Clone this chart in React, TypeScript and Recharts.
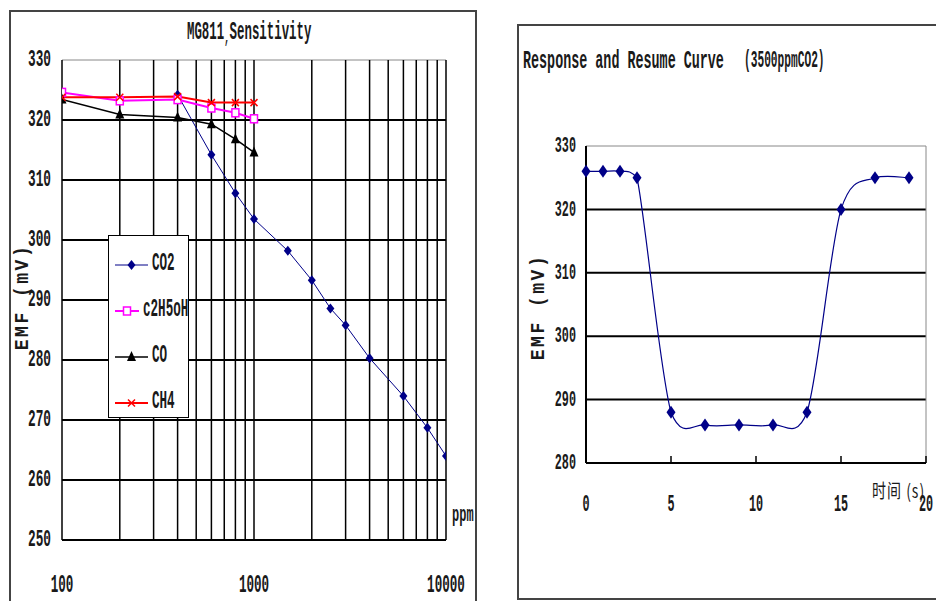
import { LineChart, Line, XAxis, YAxis, CartesianGrid, Legend, ReferenceLine } from 'recharts'

// ─── Data ────────────────────────────────────────────────────────────────────

const LOG_TICKS = [100, 200, 300, 400, 500, 600, 700, 800, 900, 1000, 2000, 3000, 4000, 5000, 6000, 7000, 8000, 9000, 10000]
const LOG_LABELS = [100, 1000, 10000]
const EMF_TICKS_LEFT = [250, 260, 270, 280, 290, 300, 310, 320, 330]

const co2Ppm = [400, 600, 800, 1000, 1500, 2000, 2500, 3000, 4000, 6000, 8000, 10000]
const co2Emf = [324.2, 314.2, 307.8, 303.5, 298.2, 293.3, 288.6, 285.8, 280.3, 274, 268.7, 264]

const gasPpm = [100, 200, 400, 600, 800, 1000]
const ethanolEmf = [324.6, 323.2, 323.4, 322, 321.2, 320.2]
const coEmf = [323.4, 320.9, 320.4, 319.3, 316.8, 314.6]
const ch4Emf = [323.8, 323.8, 323.9, 322.9, 322.9, 322.9]

const timeS = [0, 1, 2, 3, 5, 7, 9, 11, 13, 15, 17, 19]
const respEmf = [326, 326, 326, 325, 288, 286, 286, 286, 288, 320, 325, 325]
const TIME_TICKS = [0, 5, 10, 15, 20]
const EMF_TICKS_RIGHT = [280, 290, 300, 310, 320, 330]

const zip = (xs: number[], ys: number[]) => xs.map((x, i) => ({ x, y: ys[i] }))

const MONO = '"Liberation Mono", "DejaVu Sans Mono", monospace'
const NAVY = '#000088'
const INK = '#1a1a1a'

type MarkerKind = 'diamond' | 'square' | 'triangle' | 'cross'

const SERIES: { name: string; data: { x: number; y: number }[]; color: string; width: number; marker: MarkerKind; textAt: number }[] = [
  { name: 'CO2', data: zip(co2Ppm, co2Emf), color: NAVY, width: 1, marker: 'diamond', textAt: 44 },
  { name: 'c2H5oH', data: zip(gasPpm, ethanolEmf), color: '#ff00ff', width: 2, marker: 'square', textAt: 35 },
  { name: 'CO', data: zip(gasPpm, coEmf), color: '#000000', width: 1.5, marker: 'triangle', textAt: 44 },
  { name: 'CH4', data: zip(gasPpm, ch4Emf), color: '#ff0000', width: 2, marker: 'cross', textAt: 44 },
]

// ─── Markers ─────────────────────────────────────────────────────────────────

function Marker({ kind, cx, cy, color, big }: { kind: MarkerKind; cx: number; cy: number; color: string; big?: boolean }) {
  if (kind === 'diamond') {
    const w = big ? 4.5 : 4, h = big ? 6.5 : 5
    return <polygon points={`${cx},${cy - h} ${cx + w},${cy} ${cx},${cy + h} ${cx - w},${cy}`} fill={color} />
  }
  if (kind === 'square') {
    return <rect x={cx - 3.5} y={cy - 4} width={7} height={8} fill="#fff" stroke={color} strokeWidth={1.5} />
  }
  if (kind === 'triangle') {
    return <polygon points={`${cx},${cy - 6} ${cx + 4.5},${cy + 4} ${cx - 4.5},${cy + 4}`} fill={color} />
  }
  return (
    <path
      d={`M${cx - 3.5},${cy - 3.5}L${cx + 3.5},${cy + 3.5}M${cx + 3.5},${cy - 3.5}L${cx - 3.5},${cy + 3.5}`}
      stroke={color}
      strokeWidth={1.5}
    />
  )
}

// Excel-like smoothing: Catmull-Rom beziers; overshoot allowed below a segment, barely above
const smoothCurve = (context: any) => {
  let pts: [number, number][] = []
  const clamp = (v: number, a: number, b: number) => Math.min(Math.max(v, Math.min(a, b) - 3), Math.max(a, b) + 16)
  return {
    areaStart() {},
    areaEnd() {},
    lineStart() { pts = [] },
    point(x: number, y: number) { pts.push([x, y]) },
    lineEnd() {
      if (!pts.length) return
      context.moveTo(pts[0][0], pts[0][1])
      for (let i = 0; i < pts.length - 1; i++) {
        const p0 = pts[i - 1] ?? pts[i]
        const p1 = pts[i]
        const p2 = pts[i + 1]
        const p3 = pts[i + 2] ?? p2
        context.bezierCurveTo(
          p1[0] + (p2[0] - p0[0]) / 6, clamp(p1[1] + (p2[1] - p0[1]) / 6, p1[1], p2[1]),
          p2[0] - (p3[0] - p1[0]) / 6, clamp(p2[1] - (p3[1] - p1[1]) / 6, p1[1], p2[1]),
          p2[0], p2[1],
        )
      }
    },
  }
}

// grid line: top border thin grey, the rest heavy black
const gridLine = (topY: number) => (p: any) => (
  <line
    key={p.key}
    x1={p.x1} y1={p.y1} x2={p.x2} y2={p.y2}
    stroke={Math.abs(p.y1 - topY) < 1 ? '#888' : '#000'}
    strokeWidth={Math.abs(p.y1 - topY) < 1 ? 1 : 2}
  />
)

// tall, narrow bitmap-like lettering of the original
function TallText({ x, y, anchor = 'middle', size = 13, sy = 2, children }: any) {
  return (
    <text
      transform={`translate(${x},${y}) scale(1,${sy})`}
      textAnchor={anchor}
      dominantBaseline="central"
      fontFamily={MONO}
      fontSize={size}
      fontWeight="bold"
      fill={INK}
    >
      {children}
    </text>
  )
}

const tallDiv = (left: number, cy: number, size: number, sy = 2): React.CSSProperties => ({
  position: 'absolute', left, top: cy, fontFamily: MONO, fontSize: size, fontWeight: 'bold', lineHeight: 1,
  color: INK, whiteSpace: 'pre', transform: `translate(0, -50%) scaleY(${sy})`, transformOrigin: '0 50%',
})

function LogTick(props: any) {
  const { x, y, payload } = props
  if (!LOG_LABELS.includes(payload.value)) return null
  return <TallText x={x} y={y + 45} size={12.6} sy={2.1}>{payload.value}</TallText>
}

function LeftEmfTick(props: any) {
  const { x, y, payload } = props
  return <TallText x={x - 11} y={y} anchor="end" size={12.8} sy={1.9}>{payload.value}</TallText>
}

function RightEmfTick(props: any) {
  const { x, y, payload } = props
  return <TallText x={x - 10} y={y} anchor="end" size={11.8} sy={1.9}>{payload.value}</TallText>
}

function TimeTick(props: any) {
  const { x, y, payload } = props
  return (
    <g>
      <line x1={x} y1={y} x2={x} y2={y - 7} stroke="#000" strokeWidth={1.5} />
      <TallText x={x} y={y + 42} size={11.8} sy={2}>{payload.value}</TallText>
    </g>
  )
}

function SeriesLegend() {
  return (
    <div style={{ width: 81, height: 183, border: '1px solid #000', background: '#fff', boxSizing: 'border-box', paddingTop: 6 }}>
      {SERIES.map((s) => (
        <div key={s.name} style={{ position: 'relative', height: 46 }}>
          <svg width={s.textAt} height={46} style={{ position: 'absolute', left: 0, top: 0 }}>
            <line x1={6} x2={s.textAt - 5} y1={23} y2={23} stroke={s.color} strokeWidth={s.width} />
            <Marker kind={s.marker} cx={(s.textAt + 1) / 2} cy={23} color={s.color} />
          </svg>
          <div style={tallDiv(s.textAt - 1, 23, 12.6, 2)}>{s.name}</div>
        </div>
      ))}
    </div>
  )
}

const yLabel = (cx: number, cy: number): React.CSSProperties => ({
  position: 'absolute', left: cx, top: cy, transform: 'translate(-50%, -50%) rotate(-90deg) scaleY(1.15)',
  whiteSpace: 'pre', fontFamily: MONO, fontWeight: 'bold', fontSize: 18, letterSpacing: 2.5, color: INK, lineHeight: 1,
})

// ═════════════════════════════════════════════════════════════════════════════

export default function App() {
  return (
    <div style={{ position: 'absolute', left: 0, top: 0, width: 936, height: 601, background: '#fff', overflow: 'hidden' }}>
      {/* ── Left frame: sensitivity ── */}
      <div style={{ position: 'absolute', left: 9, top: 10, width: 468, height: 640, border: '2px solid #444', boxSizing: 'border-box' }} />
      <div style={{ position: 'absolute', left: 0, top: 0 }}>
        <LineChart width={480} height={601} margin={{ top: 60, right: 34, bottom: 11, left: 2 }}>
          <CartesianGrid stroke="#000" strokeWidth={1.5} horizontal={gridLine(60)} />
          <XAxis
            type="number" dataKey="x" scale="log" domain={[100, 10000]} ticks={LOG_TICKS}
            allowDataOverflow height={50} tickSize={0} tickMargin={0}
            axisLine={{ stroke: '#000', strokeWidth: 2 }} tickLine={false} tick={<LogTick />}
            interval={0}
          />
          <YAxis
            type="number" domain={[250, 330]} ticks={EMF_TICKS_LEFT} width={60}
            tickSize={0} tickMargin={0} axisLine={false} tickLine={false} tick={<LeftEmfTick />} interval={0}
          />
          <Legend
            layout="vertical" align="center" verticalAlign="middle"
            wrapperStyle={{ left: 108, top: 235, width: 81, height: 183 }}
            content={<SeriesLegend />}
          />
          {SERIES.map((s) => (
            <Line
              key={s.name}
              data={s.data}
              dataKey="y"
              name={s.name}
              type="linear"
              stroke={s.color}
              strokeWidth={s.width}
              isAnimationActive={false}
              activeDot={false}
              dot={(p: any) => <Marker key={`${s.name}-${p.index}`} kind={s.marker} cx={p.cx} cy={p.cy} color={s.color} />}
            />
          ))}
        </LineChart>
      </div>
      <div style={tallDiv(187, 35, 12.4, 2.1)}>
        MG811<span style={{ fontSize: 9, verticalAlign: -2 }}>,</span>Sensitivity
      </div>
      <div style={yLabel(22, 297)}>EMF (mV)</div>
      <div style={tallDiv(452, 515, 12, 1.9)}>ppm</div>

      {/* ── Right frame: response curve ── */}
      <div style={{ position: 'absolute', left: 517, top: 24, width: 440, height: 576, border: '2px solid #444', boxSizing: 'border-box' }} />
      <div style={{ position: 'absolute', left: 517, top: 24 }}>
        <LineChart width={419} height={577} margin={{ top: 122, right: 10, bottom: 78, left: 9 }}>
          <CartesianGrid vertical={false} stroke="#000" strokeWidth={2} horizontal={gridLine(122)} />
          <XAxis
            type="number" dataKey="x" domain={[0, 20]} ticks={TIME_TICKS} height={60}
            tickSize={0} tickMargin={0} axisLine={{ stroke: '#000', strokeWidth: 2 }} tickLine={false}
            tick={<TimeTick />} interval={0}
          />
          <YAxis
            type="number" domain={[280, 330]} ticks={EMF_TICKS_RIGHT} width={60}
            tickSize={0} tickMargin={0} axisLine={{ stroke: '#000', strokeWidth: 2 }} tickLine={false}
            tick={<RightEmfTick />} interval={0}
          />
          <ReferenceLine x={20} stroke="#888" strokeWidth={1} />
          <Line
            data={zip(timeS, respEmf)}
            dataKey="y"
            type={smoothCurve as any}
            stroke={NAVY}
            strokeWidth={1.2}
            isAnimationActive={false}
            activeDot={false}
            dot={(p: any) => <Marker key={p.index} kind="diamond" big cx={p.cx} cy={p.cy} color={NAVY} />}
          />
        </LineChart>
      </div>
      <div style={tallDiv(523, 62, 13.4, 1.9)}>Response and Resume Curve</div>
      <div style={tallDiv(744, 62, 11.2, 2.2)}>(3500ppmCO2)</div>
      <div style={yLabel(538, 307)}>EMF (mV)</div>
      <div
        style={{
          position: 'absolute', left: 872, top: 490, fontFamily: '"Noto Sans CJK SC", sans-serif', fontSize: 14,
          color: INK, whiteSpace: 'pre', lineHeight: 1, letterSpacing: 1,
          transform: 'translate(0, -50%) scaleY(1.35)', transformOrigin: '0 50%',
        }}
      >
        时间 (s)
      </div>
    </div>
  )
}
